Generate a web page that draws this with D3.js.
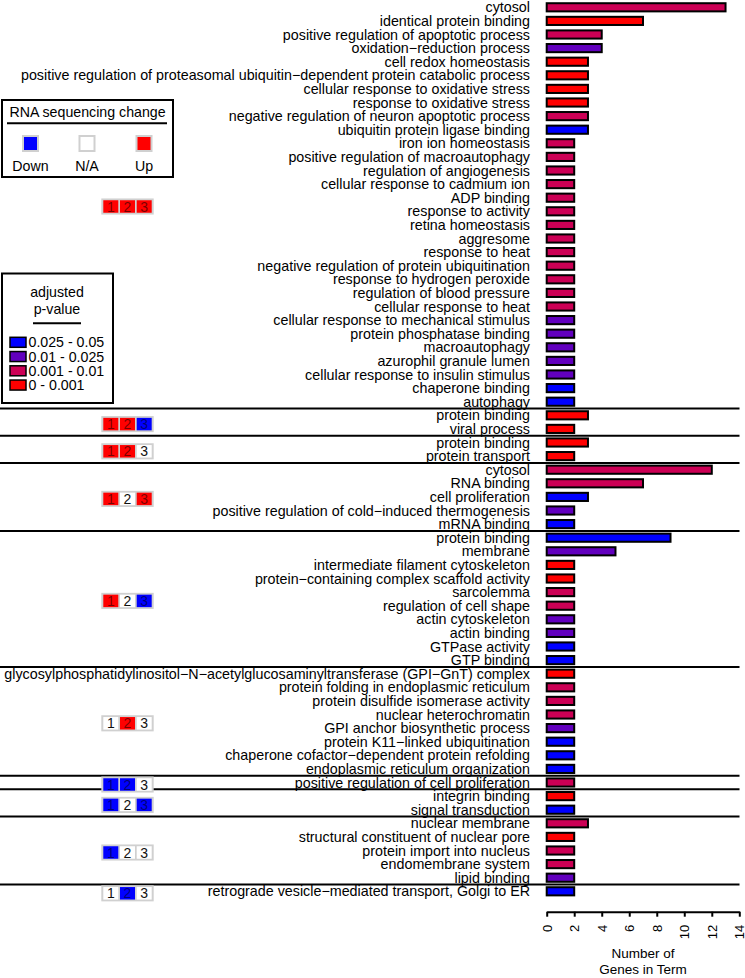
<!DOCTYPE html>
<html>
<head>
<meta charset="utf-8">
<script src="https://cdn.jsdelivr.net/npm/d3@7"></script>
<style>
  html, body { margin: 0; padding: 0; background: #fff; }
  svg { display: block; font-family: "Liberation Sans", Arial, Helvetica, sans-serif; }
</style>
</head>
<body>
<svg id="chart" width="745" height="978"></svg>
<script>
// ---------- DATA ----------
const terms = [
  "cytosol", "identical protein binding", "positive regulation of apoptotic process",
  "oxidation\u2212reduction process", "cell redox homeostasis",
  "positive regulation of proteasomal ubiquitin\u2212dependent protein catabolic process",
  "cellular response to oxidative stress", "response to oxidative stress",
  "negative regulation of neuron apoptotic process", "ubiquitin protein ligase binding",
  "iron ion homeostasis", "positive regulation of macroautophagy", "regulation of angiogenesis",
  "cellular response to cadmium ion", "ADP binding", "response to activity", "retina homeostasis",
  "aggresome", "response to heat", "negative regulation of protein ubiquitination",
  "response to hydrogen peroxide", "regulation of blood pressure", "cellular response to heat",
  "cellular response to mechanical stimulus", "protein phosphatase binding", "macroautophagy",
  "azurophil granule lumen", "cellular response to insulin stimulus", "chaperone binding", "autophagy",
  "protein binding", "viral process",
  "protein binding", "protein transport",
  "cytosol", "RNA binding", "cell proliferation", "positive regulation of cold\u2212induced thermogenesis", "mRNA binding",
  "protein binding", "membrane", "intermediate filament cytoskeleton",
  "protein\u2212containing complex scaffold activity", "sarcolemma", "regulation of cell shape",
  "actin cytoskeleton", "actin binding", "GTPase activity", "GTP binding",
  "glycosylphosphatidylinositol\u2212N\u2212acetylglucosaminyltransferase (GPI\u2212GnT) complex",
  "protein folding in endoplasmic reticulum", "protein disulfide isomerase activity",
  "nuclear heterochromatin", "GPI anchor biosynthetic process", "protein K11\u2212linked ubiquitination",
  "chaperone cofactor\u2212dependent protein refolding", "endoplasmic reticulum organization",
  "positive regulation of cell proliferation",
  "integrin binding", "signal transduction",
  "nuclear membrane", "structural constituent of nuclear pore", "protein import into nucleus",
  "endomembrane system", "lipid binding",
  "retrograde vesicle\u2212mediated transport, Golgi to ER"
];
const geneCounts = [
  13, 7, 4, 4, 3, 3, 3, 3, 3, 3,
  2, 2, 2, 2, 2, 2, 2, 2, 2, 2,
  2, 2, 2, 2, 2, 2, 2, 2, 2, 2,
  3, 2,
  3, 2,
  12, 7, 3, 2, 2,
  9, 5, 2, 2, 2, 2, 2, 2, 2, 2,
  2, 2, 2, 2, 2, 2, 2, 2,
  2,
  2, 2,
  3, 2, 2, 2, 2,
  2
];
// adjusted p-value bin per term: 0 = "0 - 0.001", 1 = "0.001 - 0.01", 2 = "0.01 - 0.025", 3 = "0.025 - 0.05"
const pvalueBin = [
  1, 0, 1, 2, 0, 0, 0, 0, 1, 3,
  1, 1, 1, 1, 1, 1, 1, 1, 1, 1,
  1, 1, 1, 2, 2, 2, 2, 2, 3, 3,
  0, 0,
  0, 0,
  1, 1, 3, 2, 3,
  3, 2, 0, 0, 1, 1, 2, 2, 3, 3,
  0, 1, 1, 1, 2, 3, 3, 3,
  1,
  0, 3,
  1, 0, 1, 1, 2,
  3
];
const groupSizes = [30, 2, 2, 5, 10, 8, 1, 2, 5, 1];
const groupPatterns = [
  ["Up", "Up", "Up"], ["Up", "Up", "Down"], ["Up", "Up", "N/A"], ["Up", "N/A", "Up"],
  ["Up", "N/A", "Down"], ["N/A", "Up", "N/A"], ["Down", "Down", "N/A"], ["Down", "N/A", "Down"],
  ["Down", "N/A", "N/A"], ["N/A", "Down", "N/A"]
];
const pvalueLabels = ["0 - 0.001", "0.001 - 0.01", "0.01 - 0.025", "0.025 - 0.05"];
const pvalueColors = ["#ff0000", "#cc0055", "#6200be", "#0000ff"];
const changeLabels = ["Down", "N/A", "Up"];
const changeColors = { "Down": "#0000ff", "N/A": "#ffffff", "Up": "#ff0000" };
const tickValues = [0, 2, 4, 6, 8, 10, 12, 14];

// ---------- CHART ----------
const svg = d3.select("#chart");
const FONT = 14.3;

const rows = terms.map((t, i) => ({ i, term: t, count: geneCounts[i], bin: pvalueBin[i] }));

const x = d3.scaleLinear().domain([0, 14]).range([546.7, 739.3]);
const y = d3.scaleBand().domain(d3.range(terms.length)).range([0.5, 898.1]).paddingInner(0.4).paddingOuter(0.2);
const step = y.step();
const yc = i => y(i) + y.bandwidth() / 2;

// labels
svg.append("g").selectAll("text").data(rows).join("text")
  .attr("x", 530).attr("y", d => yc(d.i)).attr("dy", "0.35em")
  .attr("text-anchor", "end").attr("font-size", FONT).attr("fill", "#000")
  .text(d => d.term);

// bars
svg.append("g").selectAll("rect").data(rows).join("rect")
  .attr("x", x(0)).attr("y", d => y(d.i))
  .attr("width", d => x(d.count) - x(0)).attr("height", y.bandwidth())
  .attr("fill", d => pvalueColors[d.bin]).attr("stroke", "#000").attr("stroke-width", 2);

// groups: separators and indicators
let start = 0;
const groups = groupSizes.map((n, g) => { const o = { g, start, end: start + n - 1 }; start += n; return o; });
const sepG = svg.append("g");
groups.slice(1).forEach(gr => {
  const yy = y(gr.start) - (step - y.bandwidth()) / 2;
  sepG.append("line").attr("x1", 0).attr("x2", 739.5).attr("y1", yy).attr("y2", yy)
    .attr("stroke", "#000").attr("stroke-width", 2);
});

const cellW = 15, cellH = 12.5, cellGap = 1.7;
const indG = svg.append("g");
groups.forEach(gr => {
  const cy = (yc(gr.start) + yc(gr.end)) / 2 + 2;
  const x0 = 103.3;
  indG.append("rect").attr("x", x0 - 2).attr("y", cy - cellH / 2 - 1.8)
    .attr("width", 3 * cellW + 2 * cellGap + 4).attr("height", cellH + 3.6)
    .attr("fill", "#d0d0d0");
  groupPatterns[gr.g].forEach((p, k) => {
    const cx = x0 + k * (cellW + cellGap);
    indG.append("rect").attr("x", cx).attr("y", cy - cellH / 2).attr("width", cellW).attr("height", cellH)
      .attr("fill", changeColors[p]);
    indG.append("text").attr("x", cx + cellW / 2).attr("y", cy).attr("dy", "0.36em")
      .attr("text-anchor", "middle").attr("font-size", 14)
      .attr("fill", p === "N/A" ? "#111" : "#000").attr("fill-opacity", p === "N/A" ? 1 : 0.55)
      .text(k + 1);
  });
});

// x axis
const axisY = 911.7;
const ax = svg.append("g").attr("transform", `translate(0,${axisY})`)
  .call(d3.axisBottom(x).tickValues(tickValues).tickSize(5).tickSizeOuter(0).tickFormat(d3.format("d")));
ax.select(".domain").attr("stroke", "#000").attr("stroke-width", 2);
ax.selectAll(".tick line").attr("stroke", "#000").attr("stroke-width", 2);
ax.selectAll(".tick text")
  .attr("transform", "rotate(-90)").attr("text-anchor", "end")
  .attr("x", -13).attr("y", 0).attr("dy", "0.35em")
  .attr("font-size", 13).attr("font-family", "Liberation Sans, Arial, sans-serif").attr("fill", "#000");

svg.append("text").attr("x", 643).attr("y", 957.5).attr("text-anchor", "middle").attr("font-size", 13.5).text("Number of");
svg.append("text").attr("x", 643).attr("y", 973.5).attr("text-anchor", "middle").attr("font-size", 13.5).text("Genes in Term");

// legend 1: RNA sequencing change
const L1 = svg.append("g");
L1.append("rect").attr("x", 2).attr("y", 100).attr("width", 171).attr("height", 77)
  .attr("fill", "#fff").attr("stroke", "#000").attr("stroke-width", 2);
L1.append("text").attr("x", 87.5).attr("y", 116.5).attr("text-anchor", "middle").attr("font-size", 14.2).text("RNA sequencing change");
L1.append("line").attr("x1", 7).attr("x2", 167).attr("y1", 123.3).attr("y2", 123.3).attr("stroke", "#000").attr("stroke-width", 2);
const l1x = [30.5, 87, 144];
changeLabels.forEach((lab, k) => {
  L1.append("rect").attr("x", l1x[k] - 8.5).attr("y", 135).attr("width", 17).attr("height", 17).attr("fill", "#d0d0d0");
  L1.append("rect").attr("x", l1x[k] - 6.5).attr("y", 137).attr("width", 13).attr("height", 13).attr("fill", changeColors[lab]);
  L1.append("text").attr("x", l1x[k]).attr("y", 171).attr("text-anchor", "middle").attr("font-size", 14.2).text(lab);
});

// legend 2: adjusted p-value
const L2 = svg.append("g");
L2.append("rect").attr("x", 2).attr("y", 273.5).attr("width", 111).attr("height", 129.5)
  .attr("fill", "#fff").attr("stroke", "#000").attr("stroke-width", 2);
L2.append("text").attr("x", 57).attr("y", 296.5).attr("text-anchor", "middle").attr("font-size", 14.2).text("adjusted");
L2.append("text").attr("x", 57).attr("y", 314).attr("text-anchor", "middle").attr("font-size", 14.2).text("p-value");
L2.append("line").attr("x1", 33).attr("x2", 81).attr("y1", 323.3).attr("y2", 323.3).attr("stroke", "#000").attr("stroke-width", 2);
const legOrder = [3, 2, 1, 0];
legOrder.forEach((b, k) => {
  const cy = 342.3 + k * 14.25;
  L2.append("rect").attr("x", 10).attr("y", cy - 5).attr("width", 16).attr("height", 10)
    .attr("fill", pvalueColors[b]).attr("stroke", "#000").attr("stroke-width", 1.5);
  L2.append("text").attr("x", 28.5).attr("y", cy).attr("dy", "0.36em").attr("font-size", 14.2).text(pvalueLabels[b]);
});
</script>
</body>
</html>
